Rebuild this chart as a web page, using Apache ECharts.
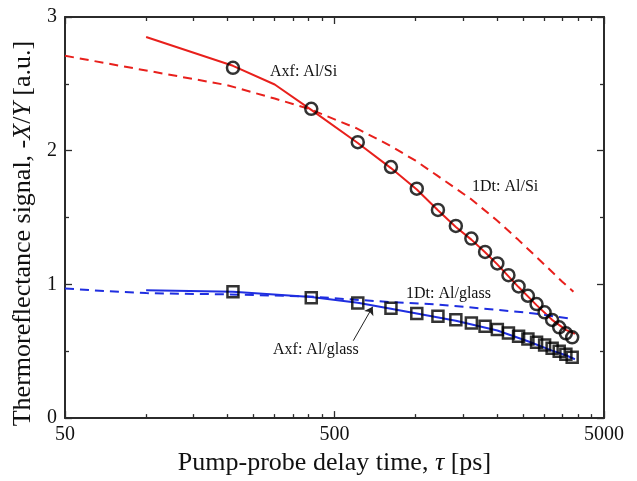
<!DOCTYPE html>
<html>
<head>
<meta charset="utf-8">
<script src="https://cdn.jsdelivr.net/npm/echarts@6/dist/echarts.min.js"></script>
<style>
html,body{margin:0;padding:0;background:#fff;}
#chart{width:637px;height:481px;}
</style>
</head>
<body>
<div id="chart"></div>
<script>
// ---- data ----
const delayTimes = [210, 410, 610, 810, 1010, 1210, 1410, 1610, 1810, 2010, 2210, 2410, 2610, 2810, 3010, 3210, 3410, 3610, 3810];
const measuredAlSi = [2.62, 2.313, 2.064, 1.878, 1.716, 1.557, 1.437, 1.343, 1.243, 1.157, 1.069, 0.985, 0.915, 0.853, 0.791, 0.734, 0.679, 0.634, 0.604];
const measuredAlGlass = [0.945, 0.90, 0.86, 0.821, 0.782, 0.762, 0.736, 0.711, 0.687, 0.662, 0.637, 0.613, 0.591, 0.568, 0.546, 0.523, 0.500, 0.478, 0.455];

const axfAlSiT = [100, 210, 300, 410, 610, 810, 1010, 1210, 1410, 1610, 1810, 2010, 2410, 2810, 3210, 3610, 3900];
const axfAlSiY = [2.85, 2.635, 2.495, 2.305, 2.058, 1.87, 1.71, 1.555, 1.43, 1.335, 1.24, 1.15, 0.98, 0.845, 0.735, 0.66, 0.63];

const oneDtAlSiT = [50, 100, 200, 300, 400, 600, 800, 1000, 1200, 1600, 2000, 2400, 3000, 3500, 3850];
const oneDtAlSiY = [2.71, 2.60, 2.49, 2.39, 2.315, 2.17, 2.04, 1.925, 1.815, 1.64, 1.48, 1.335, 1.15, 1.02, 0.945];

const axfAlGlassT = [100, 210, 410, 610, 810, 1010, 1410, 2010, 2610, 3210, 3610, 3900];
const axfAlGlassY = [0.957, 0.945, 0.905, 0.862, 0.818, 0.782, 0.728, 0.655, 0.575, 0.505, 0.47, 0.44];

const oneDtAlGlassT = [50, 70, 100, 200, 400, 800, 1200, 2000, 2700, 3300, 3850];
const oneDtAlGlassY = [0.97, 0.95, 0.935, 0.925, 0.91, 0.868, 0.85, 0.81, 0.785, 0.76, 0.74];

const xMajorTicks = [50, 500, 5000];
const xMinorTicks = [100, 150, 200, 250, 300, 350, 400, 450, 1000, 1500, 2000, 2500, 3000, 3500, 4000, 4500];

const arrowFrom = [587, 0.579];
const arrowTo = [693, 0.833];

// ---- chart ----
const zip = (xs, ys) => xs.map((x, i) => [x, ys[i]]);
const FONT = 'Liberation Serif';
const AX = '#2b2b2b';
const RED = '#e8201c';
const BLUE = '#1f2ee0';

function xAxisDef(pos, ticks, len, main, labels) {
  return {
    type: 'log', logBase: 10, min: 50, max: 5000, position: pos,
    axisLine: { show: main, onZero: false, lineStyle: { color: AX, width: 2 } },
    axisTick: { show: true, inside: true, length: len, customValues: ticks, lineStyle: { color: AX, width: 1.3 } },
    minorTick: { show: false },
    axisLabel: labels ? {
      show: true, customValues: ticks, margin: 7, color: '#111',
      fontFamily: FONT, fontSize: 20, formatter: v => String(Math.round(v))
    } : { show: false },
    splitLine: { show: false }
  };
}

const xAxes = [
  Object.assign(xAxisDef('bottom', xMajorTicks, 7, true, true), {
    name: '{n|Pump-probe delay time, }{i|τ}{n| [ps]}',
    nameLocation: 'middle', nameGap: 30,
    nameTextStyle: {
      rich: {
        n: { fontFamily: FONT, fontSize: 26, color: '#111' },
        i: { fontFamily: FONT, fontSize: 26, fontStyle: 'italic', color: '#111' }
      }
    }
  }),
  xAxisDef('bottom', xMinorTicks, 4, false, false),
  xAxisDef('top', xMajorTicks, 7, true, false),
  xAxisDef('top', xMinorTicks, 4, false, false)
];

function yAxisDef(pos, labels) {
  return {
    type: 'value', min: 0, max: 3, interval: 1, position: pos,
    axisLine: { show: true, onZero: false, lineStyle: { color: AX, width: 2 } },
    axisTick: { show: true, inside: true, length: 7, lineStyle: { color: AX, width: 1.3 } },
    minorTick: { show: true, splitNumber: 2, length: 4, lineStyle: { color: AX, width: 1.3 } },
    axisLabel: labels ? { show: true, margin: 8, color: '#111', fontFamily: FONT, fontSize: 20 } : { show: false },
    splitLine: { show: false }
  };
}

const yAxes = [
  Object.assign(yAxisDef('left', true), {
    name: '{n|Thermoreflectance signal, -}{i|X}{n|/}{i|Y}{n| [a.u.]}',
    nameLocation: 'middle', nameGap: 23,
    nameTextStyle: {
      padding: [0, 32, 0, 0],
      rich: {
        n: { fontFamily: FONT, fontSize: 26, color: '#111' },
        i: { fontFamily: FONT, fontSize: 26, fontStyle: 'italic', color: '#111' }
      }
    }
  }),
  yAxisDef('right', false)
];

function lineSeries(name, xs, ys, color, dashed, extra) {
  return Object.assign({
    name, type: 'line', xAxisIndex: 0, yAxisIndex: 0,
    data: zip(xs, ys), showSymbol: false, symbol: 'none', smooth: false,
    lineStyle: { color, width: 2, type: dashed ? [9, 6] : 'solid' },
    z: 2
  }, extra || {});
}

function annotation(text, x, y) {
  return {
    type: 'text', x, y, z: 10,
    style: { text, fontFamily: FONT, fontSize: 16, fill: '#111', textVerticalAlign: 'middle', verticalAlign: 'middle' }
  };
}

const option = {
  animation: false,
  backgroundColor: '#fff',
  grid: { left: 65, right: 33, top: 17, bottom: 62, containLabel: false },
  xAxis: xAxes,
  yAxis: yAxes,
  series: [
    lineSeries('1Dt: Al/Si', oneDtAlSiT, oneDtAlSiY, RED, true),
    lineSeries('Axf: Al/Si', axfAlSiT, axfAlSiY, RED, false),
    lineSeries('1Dt: Al/glass', oneDtAlGlassT, oneDtAlGlassY, BLUE, true),
    lineSeries('Axf: Al/glass', axfAlGlassT, axfAlGlassY, BLUE, false, {
      markLine: {
        silent: true, symbol: ['none', 'arrow'], symbolSize: 8,
        label: { show: false },
        lineStyle: { color: '#222', width: 1, type: 'solid' },
        data: [[{ coord: arrowFrom }, { coord: arrowTo }]]
      }
    }),
    {
      name: 'Al/Si data', type: 'scatter', xAxisIndex: 0, yAxisIndex: 0,
      data: zip(delayTimes, measuredAlSi), symbol: 'circle', symbolSize: 12,
      itemStyle: { color: 'rgba(0,0,0,0)', borderColor: '#000', borderWidth: 2.5 }, z: 5
    },
    {
      name: 'Al/glass data', type: 'scatter', xAxisIndex: 0, yAxisIndex: 0,
      data: zip(delayTimes, measuredAlGlass), symbol: 'rect', symbolSize: 11,
      itemStyle: { color: 'rgba(0,0,0,0)', borderColor: '#000', borderWidth: 2.5 }, z: 5
    }
  ],
  graphic: [
    annotation('Axf: Al/Si', 270, 72),
    annotation('1Dt: Al/Si', 472, 187),
    annotation('1Dt: Al/glass', 406, 294),
    annotation('Axf: Al/glass', 273, 350)
  ]
};

const chart = echarts.init(document.getElementById('chart'), null, { renderer: 'canvas' });
chart.setOption(option);
</script>
</body>
</html>
